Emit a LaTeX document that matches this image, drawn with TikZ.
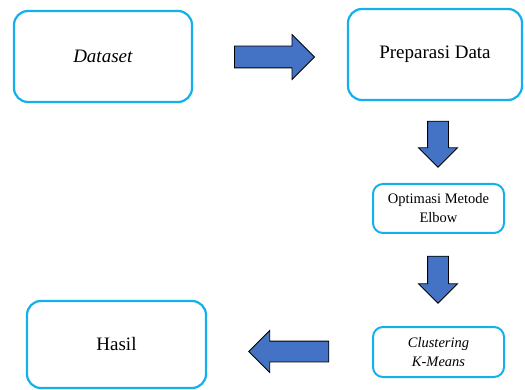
\documentclass[tikz,border=0pt]{standalone}
\usepackage{fontspec}
\setmainfont{Liberation Serif}
\usetikzlibrary{shapes.arrows}
\definecolor{boxcyan}{RGB}{20,176,236}
\definecolor{arrowblue}{RGB}{68,114,196}
\tikzset{
    bigbox/.style={draw=boxcyan, line width=2.2pt, rounded corners=14pt, align=center,
            font=\fontsize{19}{23}\selectfont},
    smallbox/.style={draw=boxcyan, line width=2pt, rounded corners=10pt, align=center,
            font=\fontsize{14.5}{19}\selectfont},
    blockarrow/.style={single arrow, draw=black, fill=arrowblue, line width=0.8pt,
            inner xsep=0pt, inner ysep=10.5pt, minimum width=0pt,
            single arrow head extend=11.5pt, single arrow tip angle=90},
}

\begin{document}
\begin{tikzpicture}[x=1pt, y=-1pt]
        \useasboundingbox (0, 0) rectangle (525, 390);
        %draw the steps
        \node[bigbox, minimum width=178pt, minimum height=91pt] (dataset) at (103, 56.5) {\textit{Dataset}};
        \node[bigbox, minimum width=174pt, minimum height=91pt] (prep) at (435, 54.5) {Preparasi Data};
        \node[smallbox, minimum width=131pt, minimum height=49pt] (elbow) at (438.5, 208.5) {Optimasi Metode\\Elbow};
        \node[smallbox, minimum width=131pt, minimum height=50pt] (kmeans) at (438.5, 352) {\textit{Clustering}\\\textit{K-Means}};
        \node[bigbox, minimum width=179pt, minimum height=87pt] (hasil) at (116.5, 344.5) {Hasil};
        %draw block arrows
        \node[blockarrow, minimum height=80pt] (toprep) at (269, 57) {};
        \node[blockarrow, minimum height=46pt, inner ysep=10pt, single arrow head extend=9pt, rotate=-90] (toelbow) at (438, 139) {};
        \node[blockarrow, minimum height=47pt, inner ysep=10pt, single arrow head extend=9pt, rotate=-90] (tokmeans) at (438, 274.5) {};
        \node[blockarrow, minimum height=80pt, inner ysep=10pt, single arrow head extend=10.5pt, rotate=180] (tohasil) at (294, 351.5) {};
    \end{tikzpicture}
\end{document}
